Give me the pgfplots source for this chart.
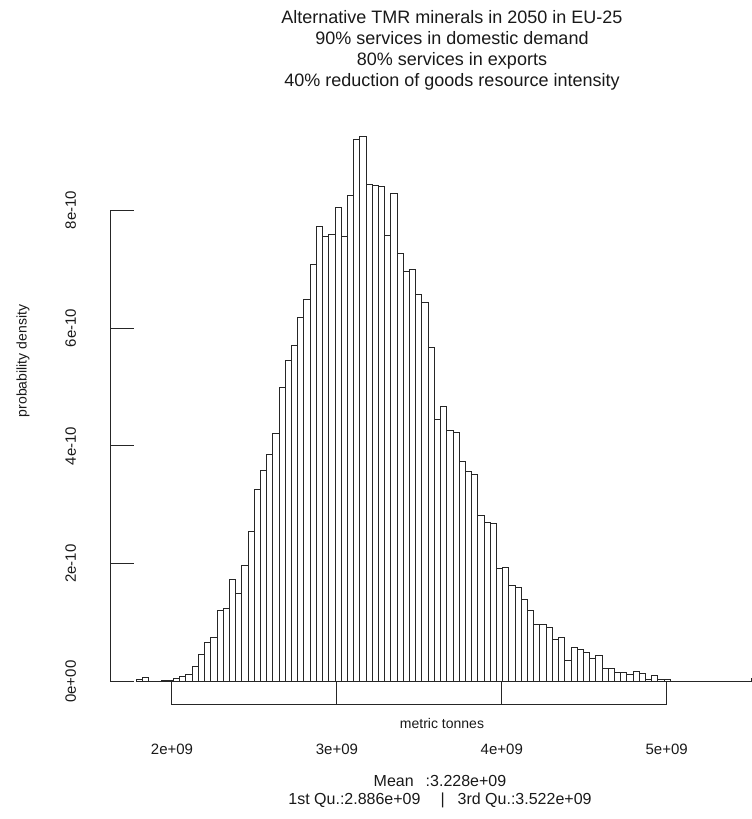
\documentclass[border=0pt]{standalone}
\usepackage{fontspec}
\setmainfont{Liberation Sans}
\usepackage{pgfplots}
\pgfplotsset{compat=1.18}
\begin{document}
\begin{tikzpicture}
\path[use as bounding box] (0,0) rectangle (752pt,819pt);
\begin{axis}[
  at={(110.7pt,114pt)}, anchor=south west,
  scale only axis, width=641.3pt, height=589.2pt,
  xmin=1.6283, xmax=5.5173, ymin=-0.3953, ymax=9.6,
  axis x line*=bottom, axis y line*=left,
  axis line style={draw=none},
  clip=false,
  xtick={2,3,4,5}, xticklabels={2e+09,3e+09,4e+09,5e+09},
  ytick={0,2,4,6,8}, yticklabels={0e+00,2e-10,4e-10,6e-10,8e-10},
  tick align=inside, major tick length=23.3pt,
  tick style={black!85, line width=1pt},
  xticklabel style={font=\fontsize{15}{17}\selectfont, text=black!90, anchor=center, yshift=-44pt},
  yticklabel style={font=\fontsize{15}{17}\selectfont, text=black!90, rotate=90, anchor=center, yshift=40pt},
]
\addplot[ybar interval, fill=white, draw=black!85, line width=1pt] coordinates {
(1.7835,0.03) (1.8212,0.07) (1.8588,0) (1.8965,0) (1.9341,0.015) (1.9718,0.015)
(2.0095,0.06) (2.0471,0.09) (2.0848,0.12) (2.1224,0.26) (2.1601,0.46) (2.1978,0.67)
(2.2354,0.75) (2.2731,1.20) (2.3107,1.24) (2.3484,1.73) (2.3861,1.50) (2.4237,1.97)
(2.4614,2.55) (2.4990,3.26) (2.5367,3.58) (2.5744,3.86) (2.6120,4.21) (2.6497,4.99)
(2.6873,5.45) (2.7250,5.71) (2.7627,6.18) (2.8003,6.49) (2.8380,7.08) (2.8756,7.73)
(2.9133,7.55) (2.9510,7.59) (2.9886,8.05) (3.0263,7.55) (3.0639,8.24) (3.1016,9.19)
(3.1393,9.25) (3.1769,8.44) (3.2146,8.41) (3.2522,8.40) (3.2899,7.57) (3.3276,8.29)
(3.3652,7.26) (3.4029,6.96) (3.4405,7.00) (3.4782,6.56) (3.5159,6.44) (3.5535,5.67)
(3.5912,4.44) (3.6288,4.66) (3.6665,4.26) (3.7042,4.23) (3.7418,3.74) (3.7795,3.57)
(3.8171,3.52) (3.8548,2.82) (3.8925,2.70) (3.9301,2.68) (3.9678,1.92) (4.0054,1.94)
(4.0431,1.63) (4.0808,1.60) (4.1184,1.39) (4.1561,1.21) (4.1937,0.97) (4.2314,0.97)
(4.2691,0.92) (4.3067,0.72) (4.3444,0.75) (4.3820,0.36) (4.4197,0.58) (4.4574,0.55)
(4.4950,0.49) (4.5327,0.40) (4.5703,0.44) (4.6080,0.22) (4.6457,0.22) (4.6833,0.16)
(4.7210,0.15) (4.7586,0.13) (4.7963,0.17) (4.8340,0.14) (4.8716,0.03) (4.9093,0.11)
(4.9469,0.04) (4.9846,0.04) (5.0223,0) (5.0599,0.01) (5.0976,0) (5.1352,0.01)
(5.1729,0.01) (5.2106,0) (5.2482,0) (5.2859,0) (5.3235,0) (5.3612,0)
(5.3989,0) (5.4365,0) (5.4742,0) (5.5118,0.06) (5.5495,0)
};
\addplot[black!85, line width=1pt] coordinates {(1.6283,0) (1.6283,8)};
\addplot[black!85, line width=1pt] coordinates {(2,-0.3953) (5,-0.3953)};
\end{axis}
\begin{scope}[every node/.style={text=black!90, inner sep=0pt}]
\node[font=\fontsize{18}{21}\selectfont, anchor=base] at (452pt,795pt) {Alternative TMR minerals in 2050 in EU-25};
\node[font=\fontsize{18}{21}\selectfont, anchor=base] at (452pt,774pt) {90\% services in domestic demand};
\node[font=\fontsize{18}{21}\selectfont, anchor=base] at (452pt,753pt) {80\% services in exports};
\node[font=\fontsize{18}{21}\selectfont, anchor=base] at (452pt,732pt) {40\% reduction of goods resource intensity};
\node[font=\fontsize{14}{16}\selectfont, rotate=90] at (23pt,458pt) {probability density};
\node[font=\fontsize{14}{16}\selectfont] at (442pt,96pt) {metric tonnes};
\node[font=\fontsize{16}{18}\selectfont] at (440pt,38pt) {Mean\hspace{12pt}:3.228e+09};
\node[font=\fontsize{16}{18}\selectfont] at (440pt,19pt) {1st Qu.:2.886e+09\hspace{20pt}|\hspace{13pt}3rd Qu.:3.522e+09};
\end{scope}
\end{tikzpicture}
\end{document}
